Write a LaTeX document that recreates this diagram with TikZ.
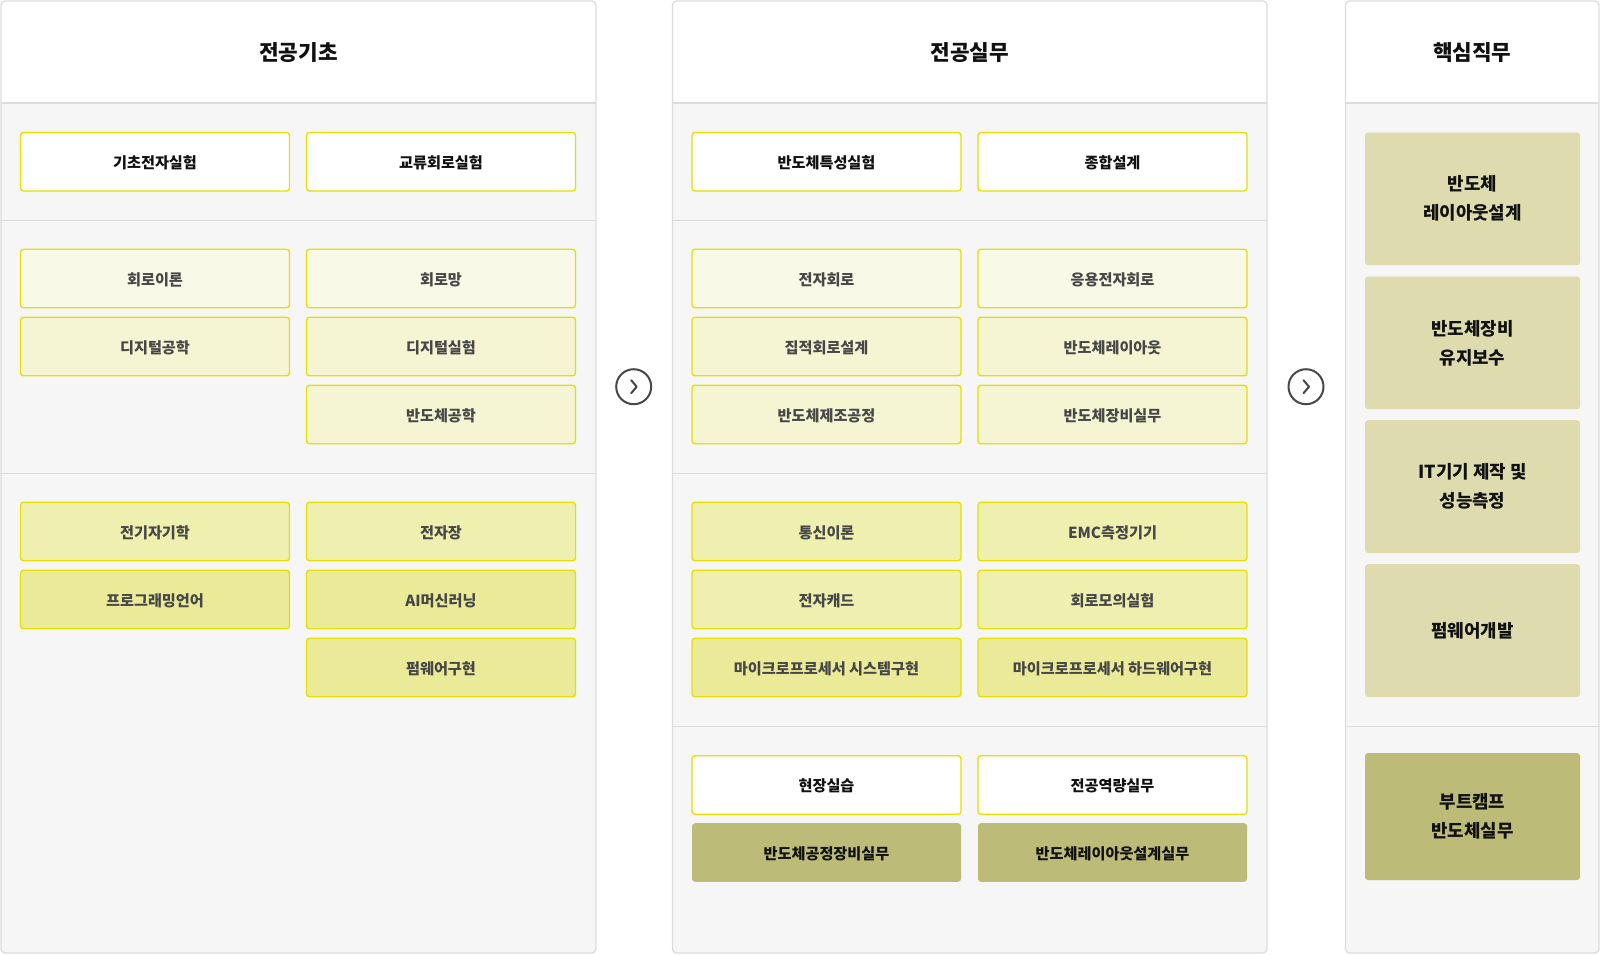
\documentclass[tikz,border=0pt]{standalone}
\usepackage{fontspec}
\setmainfont{Noto Sans CJK KR}
\definecolor{panelline}{HTML}{DCDCDC}
\definecolor{panelbg}{HTML}{F6F6F6}
\definecolor{boxedge}{HTML}{E5E000}
\definecolor{tintA}{HTML}{F9F9E8}
\definecolor{tintB}{HTML}{F5F5D3}
\definecolor{tintC}{HTML}{EFEFB0}
\definecolor{tintD}{HTML}{EAEA98}
\definecolor{olive}{HTML}{BDBB78}
\definecolor{khaki}{HTML}{DEDCAE}
\definecolor{softtext}{HTML}{474747}
\definecolor{darktext}{HTML}{111111}
\tikzset{
	subject/.style={rounded corners=2.25pt, line width=1pt, minimum width=201.75pt, minimum height=43.9pt, inner sep=0pt, text height=10.2pt, text depth=0pt, font=\fontsize{11.4}{13}\selectfont\bfseries},
	plainbox/.style={subject, draw=boxedge, fill=white, text=darktext},
	tintbox/.style={subject, draw=boxedge, fill=#1, text=softtext},
	olivebox/.style={subject, fill=olive, text=darktext},
	jobbox/.style={rounded corners=2.25pt, minimum width=161.25pt, minimum height=99.4pt, inner sep=0pt, align=center, fill=khaki, text=darktext, font=\fontsize{13.4}{21.75}\selectfont\bfseries},
	nextmark/.style={circle, draw=softtext, line width=1.5pt, fill=white, minimum size=26.25pt, inner sep=0pt}
}
\begin{document}
\begin{tikzpicture}[x=0.75pt, y=-0.75pt]
	\useasboundingbox (0,0) rectangle (1600,954);
	\pgfmathsetmacro{\ha}{155}
	\pgfmathsetmacro{\hb}{441}
	\pgfmathsetmacro{\ma}{826.5}
	\pgfmathsetmacro{\mb}{1112.5}
	\pgfmathsetmacro{\jx}{1472.5}
	% three panels
	\foreach \cx/\cw/\title [count=\i] in {1/595/전공기초, 672.5/594.5/전공실무, 1345.5/253.5/핵심직무} {
		\begin{scope}
			\clip[rounded corners=3pt] (\cx,1) rectangle ++(\cw,952);
			\fill[panelbg] (\cx,1) rectangle ++(\cw,952);
			\fill[white] (\cx,1) rectangle ++(\cw,102);
		\end{scope}
		\draw[panelline, line width=1pt, rounded corners=3pt] (\cx,1) rectangle ++(\cw,952);
		\draw[panelline, line width=1pt] (\cx,103) -- ++(\cw,0);
		\node[font=\fontsize{16}{18}\selectfont\bfseries, text=darktext] (title\i) at (\cx+\cw/2,53) {\title};
	}
	\draw[panelline, line width=1pt] (1,220.4) -- (596,220.4) (1,473.5) -- (596,473.5);
	\draw[panelline, line width=1pt] (672.5,220.4) -- (1267,220.4) (672.5,473.5) -- (1267,473.5) (672.5,726.5) -- (1267,726.5);
	\draw[panelline, line width=1pt] (1345.5,726.5) -- (1599,726.5);
	% 전공기초
	\node[plainbox] (bA1) at (\ha,161.7) {기초전자실험};
	\node[plainbox] (bA2) at (\hb,161.7) {교류회로실험};
	\node[tintbox=tintA] (bA3) at (\ha,278.5) {회로이론};
	\node[tintbox=tintA] (bA4) at (\hb,278.5) {회로망};
	\node[tintbox=tintB] (bA5) at (\ha,346.5) {디지털공학};
	\node[tintbox=tintB] (bA6) at (\hb,346.5) {디지털실험};
	\node[tintbox=tintB] (bA7) at (\hb,414.5) {반도체공학};
	\node[tintbox=tintC] (bA8) at (\ha,531.5) {전기자기학};
	\node[tintbox=tintC] (bA9) at (\hb,531.5) {전자장};
	\node[tintbox=tintD] (bA10) at (\ha,599.5) {프로그래밍언어};
	\node[tintbox=tintD] (bA11) at (\hb,599.5) {AI머신러닝};
	\node[tintbox=tintD] (bA12) at (\hb,667.5) {펌웨어구현};
	% 전공실무
	\node[plainbox] (bB1) at (\ma,161.7) {반도체특성실험};
	\node[plainbox] (bB2) at (\mb,161.7) {종합설계};
	\node[tintbox=tintA] (bB3) at (\ma,278.5) {전자회로};
	\node[tintbox=tintA] (bB4) at (\mb,278.5) {응용전자회로};
	\node[tintbox=tintB] (bB5) at (\ma,346.5) {집적회로설계};
	\node[tintbox=tintB] (bB6) at (\mb,346.5) {반도체레이아웃};
	\node[tintbox=tintB] (bB7) at (\ma,414.5) {반도체제조공정};
	\node[tintbox=tintB] (bB8) at (\mb,414.5) {반도체장비실무};
	\node[tintbox=tintC] (bB9) at (\ma,531.5) {통신이론};
	\node[tintbox=tintC] (bB10) at (\mb,531.5) {EMC측정기기};
	\node[tintbox=tintC] (bB11) at (\ma,599.5) {전자캐드};
	\node[tintbox=tintC] (bB12) at (\mb,599.5) {회로모의실험};
	\node[tintbox=tintD] (bB13) at (\ma,667.5) {마이크로프로세서 시스템구현};
	\node[tintbox=tintD] (bB14) at (\mb,667.5) {마이크로프로세서 하드웨어구현};
	\node[plainbox] (bB15) at (\ma,785) {현장실습};
	\node[plainbox] (bB16) at (\mb,785) {전공역량실무};
	\node[olivebox] (bB17) at (\ma,852.5) {반도체공정장비실무};
	\node[olivebox] (bB18) at (\mb,852.5) {반도체레이아웃설계실무};
	% 핵심직무
	\node[jobbox] (job1) at (\jx,198.8) {반도체\\레이아웃설계};
	\node[jobbox] (job2) at (\jx,342.8) {반도체장비\\유지보수};
	\node[jobbox] (job3) at (\jx,486.5) {IT기기 제작 및\\성능측정};
	\node[jobbox] (job4) at (\jx,630.5) {펌웨어개발};
	\node[jobbox, fill=olive, minimum height=95.25pt] (job5) at (\jx,816.5) {부트캠프\\반도체실무};
	% next marks
	\node[nextmark] (go1) at (633.7,386.7) {};
	\node[nextmark] (go2) at (1306,386.7) {};
	\draw[softtext, line width=1.5pt, line cap=round, line join=round] (go1.center) ++(-2.5,-6.5) -- ++(5.5,6.5) -- ++(-5.5,6.5);
	\draw[softtext, line width=1.5pt, line cap=round, line join=round] (go2.center) ++(-2.5,-6.5) -- ++(5.5,6.5) -- ++(-5.5,6.5);
\end{tikzpicture}
\end{document}
